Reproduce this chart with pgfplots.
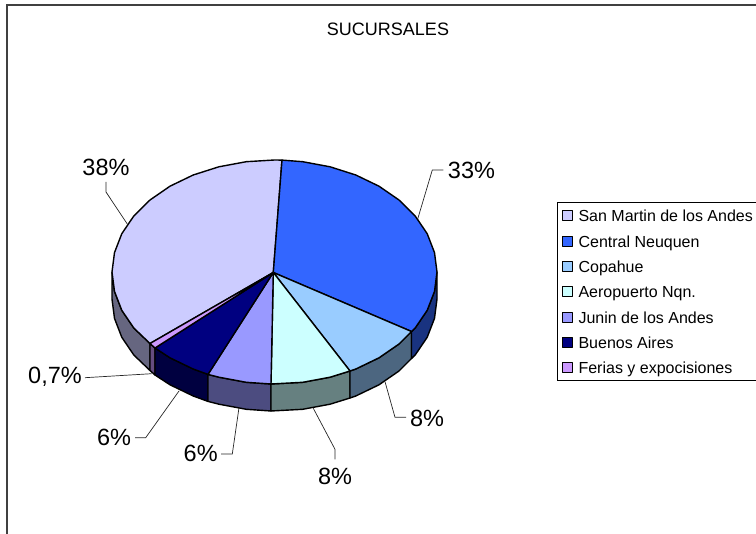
\documentclass[border=0pt]{standalone}
\usepackage{fontspec}
\setmainfont{Liberation Sans}
\usepackage{pgfplots}
\pgfplotsset{compat=1.18}

\definecolor{sanmartin}{HTML}{CCCCFF}
\definecolor{central}{HTML}{3366FF}
\definecolor{copahue}{HTML}{99CCFF}
\definecolor{aeropuerto}{HTML}{CCFFFF}
\definecolor{junin}{HTML}{9999FF}
\definecolor{buenos}{HTML}{000080}
\definecolor{ferias}{HTML}{CC99FF}

\newcommand{\biglabel}{\fontsize{23.5}{25}\selectfont}

\begin{document}
\begin{tikzpicture}
\begin{axis}[
    at={(0,0)}, anchor=south west,
    scale only axis,
    width=756pt, height=534pt,
    xmin=0, xmax=756, ymin=0, ymax=534,
    y dir=reverse,
    hide axis,
    wall/.style={draw=black, line width=1.4pt, line join=round, forget plot},
    leader/.style={draw=black!85, line width=0.7pt, forget plot},
    legend cell align=left,
    legend image code/.code={\draw[#1, line width=0.9pt] (0pt,-5pt) rectangle (10pt,5pt); \path (15.5pt,0pt);},
    legend style={
        at={(axis cs:556.5,202.5)}, anchor=north west,
        draw=black, line width=0.8pt,
        font=\fontsize{16}{16}\selectfont,
        inner xsep=5pt, inner ysep=5pt,
        row sep=9.3pt,
        nodes={inner sep=0pt, text height=14pt, text depth=2pt},
    },
]
% frame
\addplot[draw=black!75, line width=1.2pt, forget plot] coordinates {(7,534) (7,5) (756,5)};

% side walls
\addplot[wall, fill=sanmartin!50!black] coordinates {
 (112,272) (114.5,291.4) (121.8,310.3) (133.8,328) (150,343.5)
 (150,370.5) (133.8,355) (121.8,337.3) (114.5,318.4) (112,299) (112,272)};
\addplot[wall, fill=ferias!50!black] coordinates {
 (150,343.5) (155,348) (155,375) (150,370.5) (150,343.5)};
\addplot[wall, fill=buenos!50!black] coordinates {
 (155,348) (170,357.8) (193.2,369) (208,374.4)
 (208,401.4) (193.2,396) (170,384.8) (155,375) (155,348)};
\addplot[wall, fill=junin!50!black] coordinates {
 (208,374.4) (218.9,377.2) (246.3,382.3) (271,384)
 (271,411) (246.3,409.3) (218.9,404.2) (208,401.4) (208,374.4)};
\addplot[wall, fill=aeropuerto!50!black] coordinates {
 (271,384) (302.7,382.3) (330.1,377.2) (350,371)
 (350,398) (330.1,404.2) (302.7,409.3) (271,411) (271,384)};
\addplot[wall, fill=copahue!50!black] coordinates {
 (350,371) (355.8,369) (379,357.8) (399,344) (411.5,331.5)
 (411.5,358.5) (399,371) (379,384.8) (355.8,396) (350,398) (350,371)};
\addplot[wall, fill=central!50!black] coordinates {
 (411.5,331.5) (415.2,328) (427.2,310.3) (434.5,291.4) (437,272)
 (437,299) (434.5,318.4) (427.2,337.3) (415.2,355) (411.5,358.5) (411.5,331.5)};

% top faces, one per branch
\addplot[draw=black, line width=1.4pt, line join=round, fill=sanmartin] coordinates {
 (273.3,272.5) (150,343.5) (133.8,328) (121.8,310.3) (114.5,291.4) (112,272)
 (114.5,252.6) (121.8,233.7) (133.8,216) (150,200) (170,186.2) (193.2,175)
 (218.9,166.8) (246.3,161.7) (274.5,160) (282,160.1) (273.3,272.5)};
\addlegendentry{San Martin de los Andes}
\addplot[draw=black, line width=1.4pt, line join=round, fill=central] coordinates {
 (273.3,272.5) (282,160.1) (302.7,161.7) (330.1,166.8) (355.8,175) (379,186.2)
 (399,200) (415.2,216) (427.2,233.7) (434.5,252.6) (437,272) (434.5,291.4)
 (427.2,310.3) (415.2,328) (411.5,331.5) (273.3,272.5)};
\addlegendentry{Central Neuquen}
\addplot[draw=black, line width=1.4pt, line join=round, fill=copahue] coordinates {
 (273.3,272.5) (411.5,331.5) (399,344) (379,357.8) (355.8,369) (350,371) (273.3,272.5)};
\addlegendentry{Copahue}
\addplot[draw=black, line width=1.4pt, line join=round, fill=aeropuerto] coordinates {
 (273.3,272.5) (350,371) (330.1,377.2) (302.7,382.3) (271,384) (273.3,272.5)};
\addlegendentry{Aeropuerto Nqn.}
\addplot[draw=black, line width=1.4pt, line join=round, fill=junin] coordinates {
 (273.3,272.5) (271,384) (246.3,382.3) (218.9,377.2) (208,374.4) (273.3,272.5)};
\addlegendentry{Junin de los Andes}
\addplot[draw=black, line width=1.4pt, line join=round, fill=buenos] coordinates {
 (273.3,272.5) (208,374.4) (193.2,369) (170,357.8) (155,348) (273.3,272.5)};
\addlegendentry{Buenos Aires}
\addplot[draw=black, line width=1.4pt, line join=round, fill=ferias] coordinates {
 (273.3,272.5) (155,348) (150,343.5) (273.3,272.5)};
\addlegendentry{Ferias y expocisiones}

% leader lines
\addplot[leader] coordinates {(106,182) (106,192) (127.3,224)};
\addplot[leader] coordinates {(443.3,170) (432.3,170) (417.7,219)};
\addplot[leader] coordinates {(385,381.7) (395,417.3) (406,417.3)};
\addplot[leader] coordinates {(313.3,408.3) (335,449.3) (335,459.3)};
\addplot[leader] coordinates {(239,407.7) (232.3,454) (221,454)};
\addplot[leader] coordinates {(179,391) (145.7,437.7) (135,437.7)};
\addplot[leader] coordinates {(151.7,373.7) (85,377.7)};

% labels
\node[font=\fontsize{18}{20}\selectfont] at (axis cs:388,29.5) {SUCURSALES};
\node[font=\biglabel] at (axis cs:106,167) {38\%};
\node[font=\biglabel] at (axis cs:471.5,170) {33\%};
\node[font=\biglabel] at (axis cs:427,418) {8\%};
\node[font=\biglabel] at (axis cs:335,476.7) {8\%};
\node[font=\biglabel] at (axis cs:200.7,453.3) {6\%};
\node[font=\biglabel] at (axis cs:114,437.3) {6\%};
\node[font=\biglabel] at (axis cs:55,377.3) {0,7\%};
\end{axis}
\pgfresetboundingbox
\path (0,0) rectangle (756pt,534pt);
\end{tikzpicture}
\end{document}
